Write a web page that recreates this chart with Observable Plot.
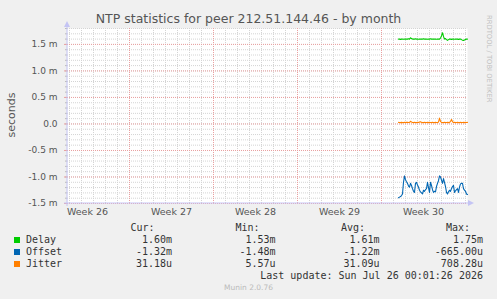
<!DOCTYPE html>
<html><head><meta charset="utf-8">
<script src="https://cdn.jsdelivr.net/npm/d3@7"></script>
<script src="https://cdn.jsdelivr.net/npm/@observablehq/plot@0.6"></script>
<style>
body{margin:0;background:#f0f0f0;}
#wrap{position:relative;width:497px;height:299px;background:#f0f0f0;overflow:hidden;font-family:"DejaVu Sans";}
#title{position:absolute;left:0;width:497px;top:11px;text-align:center;font-size:12.5px;color:#555;line-height:16px;z-index:2}
#chart{position:absolute;left:0;top:0}
#rrd{position:absolute;left:485px;top:15px;writing-mode:vertical-rl;font-size:6.8px;color:#c0c0c0;line-height:8px;white-space:nowrap}
#ylab{position:absolute;left:11px;top:115px;transform:translate(-50%,-50%) rotate(-90deg);transform-origin:center;font-size:11px;color:#555;white-space:nowrap;line-height:13px}
.lg{position:absolute;font-family:"DejaVu Sans Mono";font-size:10px;color:#333;white-space:pre;line-height:12px}
.sw{position:absolute;width:6px;height:6px}
#munin{position:absolute;left:0;width:497px;text-align:center;top:283px;font-size:7.5px;color:#bbb;line-height:10px}
</style></head>
<body>
<div id="wrap">
  <div id="title"></div>
  <div id="chart"></div>
  <div id="rrd">RRDTOOL / TOBI OETIKER</div>
  <div id="munin">Munin 2.0.76</div>
</div>
<script>
// ---- data ----
const titleText = "NTP statistics for peer 212.51.144.46 - by month";
const yAxisLabel = "seconds";
const seriesNames = ["Delay", "Offset", "Jitter"];
const seriesColors = ["#00cc00", "#0066b3", "#ff8000"];
const startTime = Date.UTC(2026, 6, 21, 10); // first sample
const stepHours = 2;
const delay = [1.60,1.60,1.595,1.60,1.60,1.598,1.60,1.602,1.60,1.60,1.605,1.60,
  1.625,1.61,1.60,1.60,1.60,1.605,1.60,1.60,1.598,1.60,1.60,1.60,
  1.60,1.605,1.60,1.60,1.60,1.598,1.60,1.60,1.605,1.60,1.60,1.60,
  1.60,1.60,1.598,1.60,1.60,1.60,1.62,1.66,1.72,1.65,1.60,1.61,
  1.59,1.575,1.59,1.60,1.60,1.595,1.60,1.60,1.598,1.60,1.60,1.60,
  1.595,1.60,1.60,1.59,1.58,1.575,1.585,1.595,1.60,1.60];
const offset = [-1.39,-1.38,-1.37,-1.35,-1.32,-1.10,-0.98,-1.05,-1.09,-1.12,-1.17,-1.19,
  -1.12,-1.16,-1.22,-1.27,-1.29,-1.12,-1.10,-1.15,-1.19,-1.25,-1.28,-1.30,
  -1.32,-1.25,-1.27,-1.24,-1.22,-1.10,-1.20,-1.29,-1.10,-1.16,-1.24,-1.29,
  -1.27,-1.28,-1.18,-1.12,-1.07,-0.98,-1.00,-1.06,-1.12,-1.03,-1.10,-1.18,
  -1.29,-1.32,-1.28,-1.25,-1.27,-1.22,-1.18,-1.16,-1.29,-1.26,-1.24,-1.22,
  -1.29,-1.19,-1.13,-1.12,-1.12,-1.22,-1.25,-1.27,-1.32,-1.33];
const jitter = [.03,.028,.025,.03,.025,.028,.03,.025,.03,.032,.028,.03,
  .05,.035,.028,.025,.03,.028,.025,.03,.028,.035,.04,.03,
  .025,.028,.03,.025,.028,.03,.025,.03,.028,.025,.03,.028,
  .025,.03,.028,.025,.035,.11,.05,.03,.025,.028,.03,.025,
  .028,.03,.025,.03,.045,.085,.04,.028,.03,.025,.028,.03,
  .025,.028,.03,.025,.028,.03,.025,.03,.028,.03];
const curVals = ["1.60m", "-1.32m", "31.18u"];
const minVals = ["1.53m", "-1.48m", "5.57u"];
const avgVals = ["1.61m", "-1.22m", "31.09u"];
const maxVals = ["1.75m", "-665.00u", "708.28u"];
const lastUpdate = "Last update: Sun Jul 26 00:01:26 2026";
const weekStarts = [Date.UTC(2026,5,29), Date.UTC(2026,6,6), Date.UTC(2026,6,13), Date.UTC(2026,6,20)].map(d => new Date(d));
const weekLabelPos = [Date.UTC(2026,5,25,12), Date.UTC(2026,6,2,12), Date.UTC(2026,6,9,12), Date.UTC(2026,6,16,12), Date.UTC(2026,6,23,12)].map(d => new Date(d));
const weekLabels = ["Week 26", "Week 27", "Week 28", "Week 29", "Week 30"];
const yTicks = [-1.5, -1.0, -0.5, 0, 0.5, 1.0, 1.5];
const yTickLabels = ["-1.5 m", "-1.0 m", "-0.5 m", "0.0", "0.5 m", "1.0 m", "1.5 m"];
const xDomain = [new Date(Date.UTC(2026,5,23,20)), new Date(Date.UTC(2026,6,27,4))];
const yDomain = [-1.5, 1.8];

// ---- build table ----
const rows = [];
[delay, offset, jitter].forEach((arr, s) => arr.forEach((v, i) => rows.push({
  t: new Date(startTime + i * stepHours * 3600e3), v, s: seriesNames[s]
})));

const minorY = d3.range(-15, 19).map(d => d / 10);
const minorX = d3.utcDay.range(xDomain[0], xDomain[1]);

const chart = Plot.plot({
  width: 497, height: 221,
  marginLeft: 67, marginRight: 30, marginTop: 28, marginBottom: 18,
  style: {background: "transparent", fontFamily: "DejaVu Sans", overflow: "visible"},
  x: {type: "utc", domain: xDomain, axis: null, label: null},
  y: {domain: yDomain, axis: null, label: null},
  color: {domain: seriesNames, range: seriesColors},
  marks: [
    Plot.frame({fill: "white", stroke: null}),
    Plot.ruleX(minorX, {stroke: "#d4d4d4", strokeDasharray: "1,1"}),
    Plot.ruleY(minorY, {stroke: "#d4d4d4", strokeDasharray: "1,1"}),
    Plot.ruleX(weekStarts, {stroke: "#eaa0a0", strokeDasharray: "1,1"}),
    Plot.ruleY(yTicks, {stroke: "#eaa0a0", strokeDasharray: "1,1"}),
    Plot.axisY(minorY, {tickSize: 2, tickFormat: () => "", stroke: "#bbb", label: null}),
    Plot.axisY(yTicks, {tickSize: 3, stroke: "#e9a0a0", tickPadding: 7, label: null,
      tickFormat: d => yTickLabels[yTicks.indexOf(d)], fill: "#555", fontSize: 9}),
    Plot.axisX(weekLabelPos, {tickSize: 0, tickPadding: 5, label: null,
      tickFormat: d => weekLabels[weekLabelPos.findIndex(w => +w === +d)], fill: "#555", fontSize: 9.5}),
    Plot.line(rows, {x: "t", y: "v", z: "s", stroke: "s", strokeWidth: 1.1})
  ]
});
document.getElementById("chart").appendChild(chart);

// axis lines with arrows
const sx = chart.scale("x").range, sy = chart.scale("y").range;
const svg = d3.select(chart);
const axCol = "#c4c4f4";
const gA = svg.append("g");
gA.append("line").attr("x1", sx[0]).attr("x2", sx[0]).attr("y1", sy[0] + 3).attr("y2", sy[1] - 2).attr("stroke", axCol);
gA.append("line").attr("x1", sx[0] - 3).attr("x2", sx[1] + 2).attr("y1", sy[0]).attr("y2", sy[0]).attr("stroke", axCol);
gA.append("path").attr("d", `M${sx[0]-3},${sy[1]-1}L${sx[0]+3},${sy[1]-1}L${sx[0]},${sy[1]-7}Z`).attr("fill", axCol);
gA.append("path").attr("d", `M${sx[1]+1},${sy[0]-3}L${sx[1]+1},${sy[0]+3}L${sx[1]+7},${sy[0]}Z`).attr("fill", axCol);

// title, y label
document.getElementById("title").textContent = titleText;
const yl = document.createElement("div"); yl.id = "ylab"; yl.textContent = yAxisLabel;
document.getElementById("wrap").appendChild(yl);

// legend
const wrap = document.getElementById("wrap");
function txt(s, rightEdge, cy, leftEdge) {
  const d = document.createElement("div"); d.className = "lg"; d.textContent = s;
  d.style.top = (cy - 6) + "px";
  if (leftEdge != null) d.style.left = leftEdge + "px";
  else { d.style.right = (497 - rightEdge) + "px"; d.style.textAlign = "right"; }
  wrap.appendChild(d);
}
const colEnds = [172, 275.5, 379.5, 483];
const headEnds = [154.5, 259.5, 365, 470];
["Cur:", "Min:", "Avg:", "Max:"].forEach((h, i) => txt(h, headEnds[i], 228));
seriesNames.forEach((n, i) => {
  const cy = 239.5 + i * 12;
  const sw = document.createElement("div"); sw.className = "sw";
  sw.style.left = "14px"; sw.style.top = (cy - 3) + "px"; sw.style.background = seriesColors[i];
  wrap.appendChild(sw);
  txt(n, null, cy, 26);
  [curVals, minVals, avgVals, maxVals].forEach((col, j) => txt(col[i], colEnds[j], cy));
});
txt(lastUpdate, 483, 275.5);
</script>
</body></html>
